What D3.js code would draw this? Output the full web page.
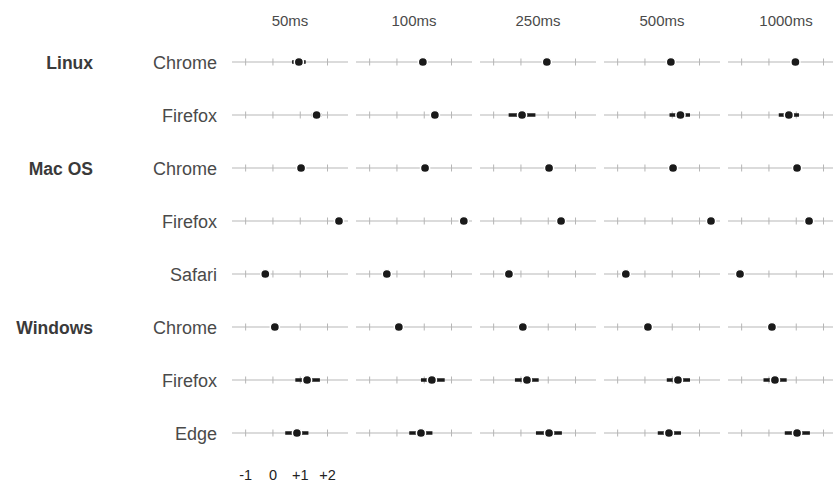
<!DOCTYPE html>
<html><head><meta charset="utf-8">
<script src="https://cdn.jsdelivr.net/npm/d3@7/dist/d3.min.js"></script>
<style>body{margin:0;background:#fff}svg{display:block;font-family:"Liberation Sans",Arial,sans-serif}</style>
</head><body><svg id="c" width="833" height="482"></svg>
<script>
const columns = ["50ms","100ms","250ms","500ms","1000ms"];
const osGroups = ["Linux","Mac OS","Windows"];
const rowOS = ["Linux","Linux","Mac OS","Mac OS","Mac OS","Windows","Windows","Windows"];
const rowBrowser = ["Chrome","Firefox","Chrome","Firefox","Safari","Chrome","Firefox","Edge"];
const tickValues = [-1,0,1,2];
const tickLabels = ["-1","0","+1","+2"];
const means = [
  [0.95,0.95,0.95,0.95,0.97],
  [1.6,1.39,0.04,1.3,0.73],
  [1.03,1.03,1.03,1.03,1.03],
  [2.42,2.45,1.47,2.42,1.47],
  [-0.28,-0.37,-0.44,-0.7,-1.06],
  [0.07,0.07,0.07,0.11,0.11],
  [1.25,1.28,0.22,1.21,0.22],
  [0.88,0.88,1.03,0.88,1.03]
];
const lowers = [
  [0.7,0.85,0.85,0.85,0.9],
  [1.42,1.25,-0.45,0.9,0.36],
  [0.98,0.98,0.98,0.98,0.98],
  [2.27,2.35,1.35,2.3,1.35],
  [-0.33,-0.42,-0.5,-0.75,-1.1],
  [0.02,0.02,0.02,0.06,0.06],
  [0.82,0.88,-0.22,0.8,-0.2],
  [0.45,0.45,0.55,0.47,0.58]
];
const uppers = [
  [1.2,1.05,1.05,1.05,1.05],
  [1.78,1.53,0.53,1.65,1.1],
  [1.08,1.08,1.08,1.08,1.08],
  [2.6,2.55,1.6,2.55,1.6],
  [-0.23,-0.32,-0.38,-0.65,-1.0],
  [0.12,0.12,0.12,0.16,0.16],
  [1.72,1.75,0.65,1.65,0.65],
  [1.3,1.3,1.5,1.32,1.5]
];

const svg = d3.select("#c");
const colScale = d3.scaleBand().domain(columns).range([232, 844]).paddingInner(8/124).paddingOuter(0);
const x = d3.scaleLinear().domain([-1.5, 2.75]).range([0, colScale.bandwidth()]);
const y = d3.scalePoint().domain(d3.range(rowBrowser.length)).range([62, 433]);
const textCol = "#4a4a4a";

// column headers
svg.selectAll("text.col").data(columns).join("text")
  .attr("x", d => colScale(d) + colScale.bandwidth()/2).attr("y", 26)
  .attr("text-anchor","middle").attr("font-size",15).attr("fill",textCol).text(d=>d);

// row labels
svg.selectAll("text.row").data(rowBrowser).join("text")
  .attr("x", 217).attr("y", (d,i)=>y(i)+6.5)
  .attr("text-anchor","end").attr("font-size",18).attr("fill",textCol).text(d=>d);

// group labels
svg.selectAll("text.grp").data(osGroups).join("text")
  .attr("x", 93).attr("y", g => y(rowOS.indexOf(g))+6.5)
  .attr("text-anchor","end").attr("font-size",17.5).attr("font-weight","bold").attr("fill","#3a3a3a").text(d=>d);

// panels
columns.forEach((col, ci) => {
  const g = svg.append("g").attr("transform", `translate(${colScale(col)},0)`);
  rowBrowser.forEach((b, ri) => {
    const yy = y(ri);
    g.append("line").attr("x1", x.range()[0]).attr("x2", x.range()[1]).attr("y1", yy).attr("y2", yy)
      .attr("stroke","#cfcfcf").attr("stroke-width",1.5);
    g.selectAll(null).data(tickValues).join("line")
      .attr("x1", d=>x(d)).attr("x2", d=>x(d)).attr("y1", yy-3.5).attr("y2", yy+3.5)
      .attr("stroke","#b5b5b5").attr("stroke-width",1);
    g.append("line").attr("x1", x(lowers[ri][ci])).attr("x2", x(uppers[ri][ci])).attr("y1", yy).attr("y2", yy)
      .attr("stroke","#1a1a1a").attr("stroke-width",3.5);
    g.append("circle").attr("cx", x(means[ri][ci])).attr("cy", yy).attr("r", 4.6)
      .attr("fill","#1a1a1a").attr("stroke","#fff").attr("stroke-width",1.5);
  });
  if (ci === 0) {
    g.selectAll("text.tick").data(tickValues).join("text")
      .attr("x", d=>x(d)).attr("y", 480).attr("text-anchor","middle")
      .attr("font-size",14.5).attr("fill","#222").text((d,i)=>tickLabels[i]);
  }
});
</script></body></html>
